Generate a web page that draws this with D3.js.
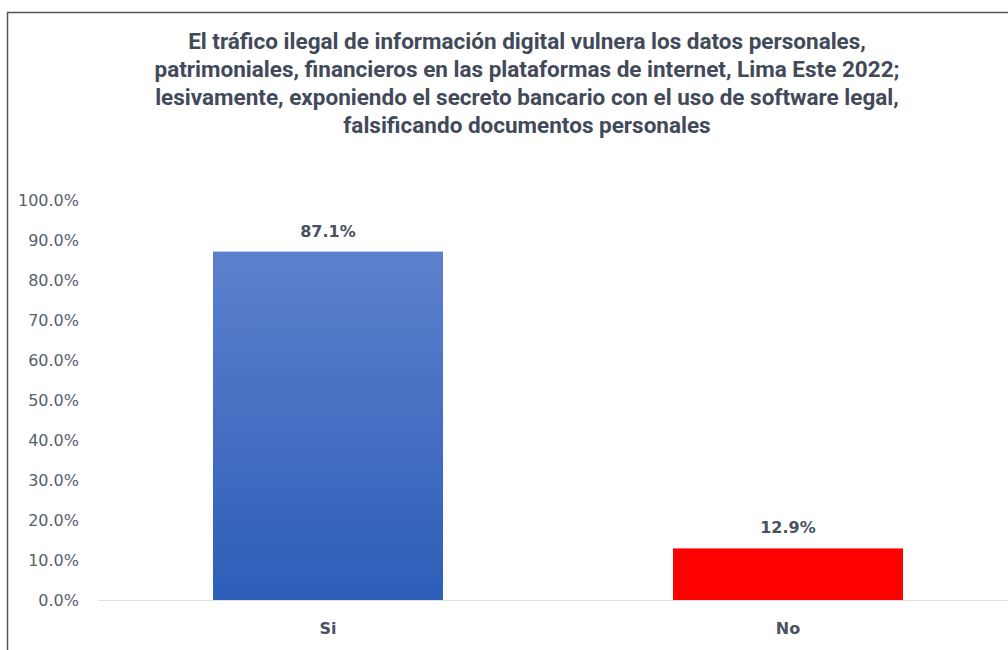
<!DOCTYPE html>
<html>
<head>
<meta charset="utf-8">
<script src="https://cdn.jsdelivr.net/npm/d3@7"></script>
<style>
  body { margin: 0; background: #fff; }
  svg { display: block; }
</style>
</head>
<body>
<div id="chart"></div>
<script>
var categories = ["Si", "No"];
var values = [0.871, 0.129];
var barColors = ["url(#blueGrad)", "#ff0000"];
var yTicks = [0, 0.1, 0.2, 0.3, 0.4, 0.5, 0.6, 0.7, 0.8, 0.9, 1.0];
var titleLines = [
  "El tráfico ilegal de información digital vulnera los datos personales,",
  "patrimoniales, financieros en las plataformas de internet, Lima Este 2022;",
  "lesivamente, exponiendo el secreto bancario con el uso de software legal,",
  "falsificando documentos personales"
];

var width = 1008, height = 650;
var margin = {top: 200, left: 98, right: -10, bottom: 50};

var svg = d3.select("#chart").append("svg")
    .attr("width", width)
    .attr("height", height);

var grad = svg.append("defs").append("linearGradient")
    .attr("id", "blueGrad")
    .attr("x1", 0).attr("y1", 0).attr("x2", 0).attr("y2", 1);
grad.append("stop").attr("offset", "0%").attr("stop-color", "#5d80cd");
grad.append("stop").attr("offset", "100%").attr("stop-color", "#2d5eb8");

// outer frame
svg.append("path")
    .attr("d", "M7.5," + height + "V12.5H" + width)
    .attr("fill", "none")
    .attr("stroke", "#555")
    .attr("stroke-width", 1.5);

svg.append("g").selectAll("text")
    .data(titleLines)
  .enter().append("text")
    .attr("x", 527)
    .attr("y", function(d, i) { return 49 + i * 28; })
    .attr("text-anchor", "middle")
    .style("font-family", "'Roboto', sans-serif")
    .style("font-weight", "bold")
    .style("font-size", "22.5px")
    .style("fill", "#424a5a")
    .text(function(d) { return d; });

var x = d3.scaleBand()
    .domain(categories)
    .range([margin.left, width - margin.right])
    .paddingInner(0.5)
    .paddingOuter(0.25);

var y = d3.scaleLinear()
    .domain([0, 1])
    .range([height - margin.bottom, margin.top]);

var yAxis = d3.axisLeft(y)
    .tickValues(yTicks)
    .tickFormat(d3.format(".1%"))
    .tickSize(0)
    .tickPadding(0);

var gy = svg.append("g")
    .attr("transform", "translate(79,0)")
    .call(yAxis);
gy.select(".domain").remove();
gy.selectAll("text")
    .attr("dy", "0.35em")
    .style("font-family", "'DejaVu Sans', sans-serif")
    .style("font-size", "16px")
    .style("fill", "#59606e");

// baseline
svg.append("line")
    .attr("x1", margin.left)
    .attr("x2", width)
    .attr("y1", y(0) + 0.5)
    .attr("y2", y(0) + 0.5)
    .attr("stroke", "#dde2ea")
    .attr("stroke-width", 1);

svg.append("g").selectAll("rect")
    .data(values)
  .enter().append("rect")
    .attr("x", function(d, i) { return x(categories[i]); })
    .attr("y", function(d) { return y(d); })
    .attr("width", x.bandwidth())
    .attr("height", function(d) { return y(0) - y(d); })
    .attr("fill", function(d, i) { return barColors[i]; });

// value labels
svg.append("g").selectAll("text")
    .data(values)
  .enter().append("text")
    .attr("x", function(d, i) { return x(categories[i]) + x.bandwidth() / 2; })
    .attr("y", function(d) { return y(d) - 15; })
    .attr("text-anchor", "middle")
    .style("font-family", "'DejaVu Sans', sans-serif")
    .style("font-weight", "bold")
    .style("font-size", "16px")
    .style("fill", "#4a5262")
    .text(function(d) { return d3.format(".1%")(d); });

// category labels
svg.append("g").selectAll("text")
    .data(categories)
  .enter().append("text")
    .attr("x", function(d) { return x(d) + x.bandwidth() / 2; })
    .attr("y", 634)
    .attr("text-anchor", "middle")
    .style("font-family", "'DejaVu Sans', sans-serif")
    .style("font-weight", "bold")
    .style("font-size", "16px")
    .style("fill", "#4a5262")
    .text(function(d) { return d; });
</script>
</body>
</html>
